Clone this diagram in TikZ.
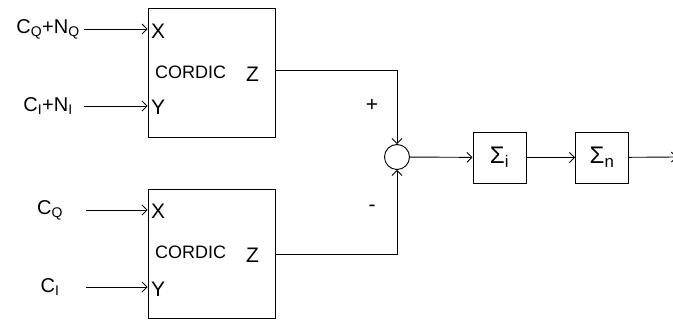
\documentclass[tikz,border=0pt]{standalone}
\usepackage{fontspec}
\setmainfont{Liberation Sans}
\usetikzlibrary{arrows.meta,positioning,calc}
\tikzset{
  >={Straight Barb[length=5pt,width=10pt]},
  blk/.style={draw,line width=0.9pt,inner sep=0pt,minimum width=127pt,minimum height=129pt},
  sbox/.style={draw,line width=0.9pt,inner sep=0pt,minimum width=53pt,minimum height=51pt,font=\fontsize{24}{28}\selectfont},
  inlab/.style={inner sep=0pt,minimum width=72pt,font=\fontsize{20}{24}\selectfont},
  port/.style={inner sep=0pt,anchor=west,font=\fontsize{21}{25}\selectfont},
  cname/.style={inner sep=0pt,anchor=west,font=\fontsize{18}{21}\selectfont},
  sgn/.style={inner sep=0pt,font=\fontsize{21}{25}\selectfont},
  arr/.style={->,line width=0.9pt},
}
\begin{document}
\begin{tikzpicture}[x=1pt,y=1pt]
\useasboundingbox (0,0) rectangle (673,-320);
% upper CORDIC
\node[blk] (ctop) at (211.5,-72.5) {};
\node[port] (xt) at (151,-31) {X};
\node[port] (yt) at (151,-107) {Y};
\node[cname] (nt) at (155,-72) {CORDIC};
\node[port] (zt) at (246,-74) {Z};
\node[inlab] (cqn) at (48,-29) {C\textsubscript{Q}+N\textsubscript{Q}};
\node[inlab] (cin) at (48,-106) {C\textsubscript{I}+N\textsubscript{I}};
% lower CORDIC
\node[blk] (cbot) at (211.5,-254) {};
\node[port] (xb) at (151,-211) {X};
\node[port] (yb) at (151,-289) {Y};
\node[cname] (nb) at (155,-252) {CORDIC};
\node[port] (zb) at (246,-255) {Z};
\node[inlab] (cq) at (50,-210) {C\textsubscript{Q}};
\node[inlab] (ci) at (50,-287) {C\textsubscript{I}};
% summing point and accumulators
\node[draw,circle,line width=0.9pt,inner sep=0pt,minimum size=25pt] (add) at (397,-157) {};
\node[sgn] (plus) at (372,-105) {+};
\node[sgn] (minus) at (372,-208) {-};
\node[sbox] (si) at (499.5,-157.5) {Σ\textsubscript{i}};
\node[sbox] (sn) at (602,-157.5) {Σ\textsubscript{n}};
\coordinate (out) at (677,-157);
\draw[arr] (cqn.east) -- (cqn.east -| ctop.west);
\draw[arr] (cin.east) -- (cin.east -| ctop.west);
\draw[arr] (cq.east) -- (cq.east -| cbot.west);
\draw[arr] (ci.east) -- (ci.east -| cbot.west);
\draw[arr] ([yshift=2.5pt]ctop.east) -| (add.north);
\draw[arr] (cbot.east) -| (add.south);
\draw[arr] (add) -- (si);
\draw[arr] (si) -- (sn);
\draw[arr] (sn) -- (out);
\end{tikzpicture}
\end{document}
